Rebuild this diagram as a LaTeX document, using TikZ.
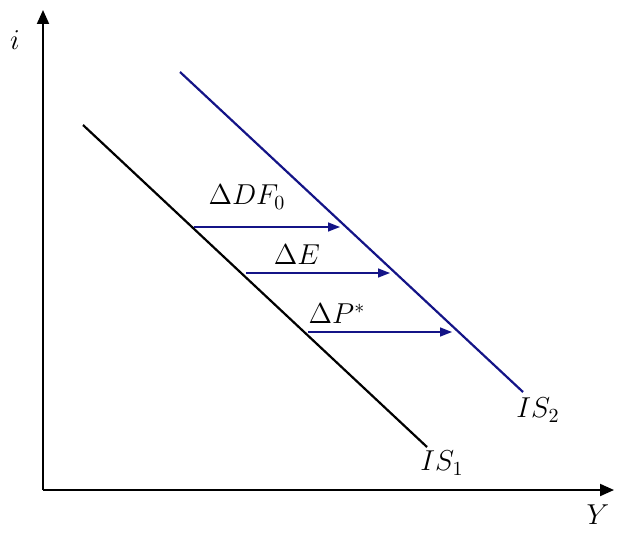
\documentclass[tikz,border=0pt]{standalone}
\usepackage{tikz}
\usetikzlibrary{
    arrows.meta,   % For arrow tips
    positioning,   % For relative placement
}
\definecolor{isblue}{RGB}{20,20,135}

\begin{document}
\begin{tikzpicture}[
    x=0.5pt, y=-0.5pt,
    >=Triangle, % Set default arrow tip style
    axis/.style={->, line width=1pt, >={Triangle[length=7pt,width=6pt]}}, % Style for axes
    curve/.style={line width=1.1pt},    % Base style for IS curves
    shiftarrow/.style={->, isblue, line width=0.7pt, >={Triangle[length=6pt,width=4.5pt]}}, % Style for shift arrows
    labelstyle/.style={font=\Large}, % Base style for labels
]
    \useasboundingbox (0,0) rectangle (619,534);

    % Axes
    \coordinate (O) at (43,490);
    \coordinate (itop) at (43,10);
    \coordinate (Yend) at (614,490);
    \draw[axis] (O) -- (itop);
    \draw[axis] (O) -- (Yend);
    \node[labelstyle] (ilab) at (15,40) {$i$};
    \node[labelstyle] (Ylab) at (598,515) {$Y$};

    % IS curves
    \coordinate (A1) at (83,125);
    \coordinate (B1) at (427,447);
    \coordinate (A2) at (180,72);
    \coordinate (B2) at (523,392);
    \draw[curve] (A1) -- (B1);
    \draw[curve, isblue] (A2) -- (B2);
    \node[labelstyle] (is1) at (442,463) {$IS_1$};
    \node[labelstyle] (is2) at (538,410) {$IS_2$};

    % --- Shift arrows ---
    \coordinate (s1) at (194,227);
    \coordinate (e1) at (340,227);
    \coordinate (s2) at (246,273);
    \coordinate (e2) at (390,273);
    \coordinate (s3) at (308,332);
    \coordinate (e3) at (452,332);
    \draw[shiftarrow] (s1) -- (e1);
    \draw[shiftarrow] (s2) -- (e2);
    \draw[shiftarrow] (s3) -- (e3);
    \node[labelstyle] (dDF) at (247,197) {$\Delta DF_0$};
    \node[labelstyle] (dE) at (297,255) {$\Delta E$};
    \node[labelstyle] (dP) at (337,314) {$\Delta P^{*}$};
    % --- End shift arrows ---

\end{tikzpicture}
\end{document}
